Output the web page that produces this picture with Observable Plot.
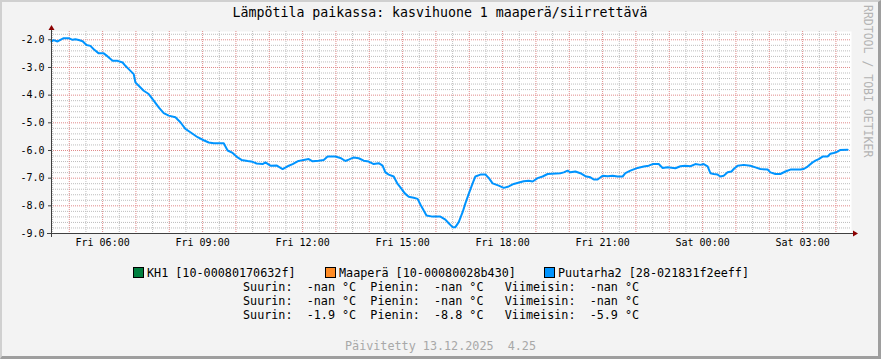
<!DOCTYPE html>
<html><head><meta charset="utf-8">
<script src="https://cdn.jsdelivr.net/npm/d3@7"></script>
<script src="https://cdn.jsdelivr.net/npm/@observablehq/plot@0.6"></script>
<style>
html,body{margin:0;padding:0;background:#f3f3f3;}
#wrap{position:relative;width:881px;height:359px;background:#f3f3f3;overflow:hidden;font-family:"DejaVu Sans Mono",monospace;}
#wrap svg{position:absolute;left:0;top:0;}
.t{position:absolute;white-space:pre;font-size:11.75px;line-height:14px;color:#000;}
.sq{position:absolute;width:9px;height:9px;border:1px solid #000;}
#border{position:absolute;left:0;top:0;width:881px;height:359px;box-sizing:border-box;border-left:2px solid #d0d0d0;border-top:2px solid #d0d0d0;border-right:3px solid #9e9e9e;border-bottom:3px solid #9e9e9e;pointer-events:none;}
</style></head><body><div id="wrap"></div>
<script>
// time in minutes since Fri 12.12.2025 00:00 and temperature (°C) of Puutarha2
const minutes = [268,272,279,284,290,299,306,311,317,324,331,338,344,353,362,369,378,387,396,401,407,416,419,425,434,443,452,461,470,479,491,500,509,518,531,542,551,560,578,585,594,603,610,621,630,637,648,653,662,673,684,693,702,711,722,731,738,749,758,765,779,788,797,803,812,821,830,839,848,857,864,869,875,884,891,896,904,911,920,927,932,938,943,954,968,977,983,990,995,1001,1008,1013,1019,1026,1031,1040,1049,1055,1062,1073,1082,1091,1100,1118,1127,1134,1143,1152,1161,1184,1190,1197,1202,1211,1220,1229,1238,1244,1251,1260,1269,1278,1287,1296,1301,1310,1323,1334,1343,1350,1361,1368,1377,1391,1400,1409,1418,1427,1436,1442,1449,1454,1460,1467,1472,1478,1485,1492,1496,1503,1514,1526,1535,1544,1557,1562,1571,1580,1589,1598,1616,1622,1629,1638,1643,1649,1656,1665,1670,1676,1683,1688,1701];
const temps = [-2.06,-2.01,-2.06,-2.00,-1.94,-1.94,-2.00,-1.98,-2.01,-2.05,-2.19,-2.22,-2.34,-2.49,-2.49,-2.60,-2.76,-2.76,-2.82,-2.94,-3.06,-3.24,-3.54,-3.66,-3.84,-3.96,-4.20,-4.44,-4.65,-4.74,-4.80,-4.98,-5.22,-5.34,-5.52,-5.63,-5.71,-5.74,-5.74,-6.00,-6.09,-6.25,-6.34,-6.38,-6.41,-6.47,-6.49,-6.43,-6.55,-6.54,-6.67,-6.57,-6.49,-6.39,-6.34,-6.31,-6.39,-6.37,-6.34,-6.22,-6.22,-6.27,-6.38,-6.33,-6.25,-6.28,-6.37,-6.40,-6.49,-6.46,-6.55,-6.79,-6.87,-6.94,-7.21,-7.33,-7.55,-7.67,-7.71,-7.75,-7.95,-8.17,-8.35,-8.39,-8.39,-8.50,-8.63,-8.77,-8.77,-8.59,-8.23,-7.91,-7.57,-7.19,-6.94,-6.87,-6.87,-6.99,-7.19,-7.27,-7.35,-7.30,-7.21,-7.11,-7.09,-7.12,-7.00,-6.94,-6.85,-6.82,-6.79,-6.73,-6.79,-6.76,-6.82,-6.93,-6.97,-7.05,-7.05,-6.91,-6.93,-6.91,-6.94,-6.94,-6.82,-6.73,-6.63,-6.58,-6.55,-6.49,-6.49,-6.63,-6.61,-6.64,-6.57,-6.55,-6.57,-6.49,-6.52,-6.49,-6.57,-6.82,-6.85,-6.87,-6.94,-6.91,-6.79,-6.76,-6.67,-6.55,-6.52,-6.55,-6.61,-6.67,-6.69,-6.79,-6.85,-6.85,-6.76,-6.69,-6.69,-6.67,-6.58,-6.43,-6.37,-6.31,-6.22,-6.22,-6.12,-6.09,-6.04,-5.98,-5.97];

const xDomainMinutes = [268, 1708];
const xTickMinutes = [360, 540, 720, 900, 1080, 1260, 1440, 1620];
const xTickLabels = ["Fri 06:00","Fri 09:00","Fri 12:00","Fri 15:00","Fri 18:00","Fri 21:00","Sat 00:00","Sat 03:00"];
const yDomain = [-9, -1.7];
const yTicks = [-9, -8, -7, -6, -5, -4, -3, -2];

const titleText = "Lämpötila paikassa: kasvihuone 1 maaperä/siirrettävä";
const legendNames = ["KH1 [10-00080170632f]", "Maaperä [10-00080028b430]", "Puutarha2 [28-021831f2eeff]"];
const legendColors = ["#007f3f", "#ff8c26", "#0094ff"];
const statMax = ["-nan", "-nan", "-1.9"];
const statMin = ["-nan", "-nan", "-8.8"];
const statLast = ["-nan", "-nan", "-5.9"];
const updatedText = "Päivitetty 13.12.2025  4.25";
const watermark = "RRDTOOL / TOBI OETIKER";

const base = new Date(2025, 11, 12, 0, 0, 0);
const toDate = m => new Date(base.getTime() + m * 60000);
const data = minutes.map((m, i) => ({t: toDate(m), v: temps[i]}));
const xDom = xDomainMinutes.map(toDate);

const hourTicks = d3.timeHour.range(xDom[0], xDom[1]);
const halfTicks = d3.timeMinute.every(30).range(xDom[0], xDom[1]).filter(d => d.getMinutes() !== 0);
const minorY = d3.range(-90, -16, 2).filter(v => v % 10 !== 0).map(v => v / 10);

const W = 881, H = 359, mL = 51, mR = 30, mT = 31, mB = 126;
const line = legendColors[2];
const minorCol = "#bdbdbd", majorCol = "#e08a8a";

const chart = Plot.plot({
  width: W, height: H,
  marginLeft: mL, marginRight: mR, marginTop: mT, marginBottom: mB,
  style: {background: "transparent", fontFamily: "'DejaVu Sans Mono', monospace", fontSize: "10px", color: "#000", overflow: "visible"},
  x: {type: "time", domain: xDom, label: null},
  y: {domain: yDomain, label: null},
  marks: [
    Plot.frame({fill: "white", stroke: null}),
    Plot.gridX(halfTicks, {stroke: minorCol, strokeOpacity: 1, strokeDasharray: "1,1"}),
    Plot.gridY(minorY, {stroke: minorCol, strokeOpacity: 1, strokeDasharray: "1,1"}),
    Plot.gridX(hourTicks, {stroke: majorCol, strokeOpacity: 1, strokeDasharray: "1,1"}),
    Plot.gridY(yTicks, {stroke: majorCol, strokeOpacity: 1, strokeDasharray: "1,1"}),
    Plot.line(data, {x: "t", y: "v", stroke: line, strokeWidth: 2, strokeLinejoin: "miter"}),
    Plot.axisY(yTicks, {label: null, tickFormat: d => d.toFixed(1), tickSize: 3, tickPadding: 4, stroke: "#404040", fill: "#000", fontSize: 10}),
    Plot.axisX(xTickMinutes.map(toDate), {label: null, tickFormat: (d, i) => xTickLabels[i], tickSize: 0, tickPadding: 5, fill: "#000", fontSize: 10})
  ]
});

const svg = d3.select(chart);
const gAx = svg.append("g");
// axis lines
gAx.append("line").attr("x1", mL + 0.5).attr("x2", mL + 0.5).attr("y1", H - mB + 4).attr("y2", mT - 2).attr("stroke", "#404040");
gAx.append("line").attr("x1", mL - 4).attr("x2", W - mR + 2).attr("y1", H - mB + 0.5).attr("y2", H - mB + 0.5).attr("stroke", "#404040");
// arrows
gAx.append("path").attr("d", `M${mL + 0.5},${mT - 6} L${mL - 2.5},${mT - 1} L${mL + 3.5},${mT - 1} Z`).attr("fill", "#8b0000");
gAx.append("path").attr("d", `M${W - mR + 7},${H - mB + 0.5} L${W - mR + 2},${H - mB - 2.5} L${W - mR + 2},${H - mB + 3.5} Z`).attr("fill", "#8b0000");

const wrap = document.getElementById("wrap");
wrap.appendChild(chart);

function addText(txt, x, y, cls, style) {
  const d = document.createElement("div");
  d.className = cls || "t";
  d.textContent = txt;
  d.style.left = x + "px";
  d.style.top = y + "px";
  if (style) Object.assign(d.style, style);
  wrap.appendChild(d);
  return d;
}
// title
addText(titleText, 0, 4, "t", {width: "880px", textAlign: "center", fontSize: "13.25px", lineHeight: "18px"});
// watermark
addText(watermark, 861, 5, "t", {writingMode: "vertical-rl", fontSize: "11.5px", color: "#b4b4b4", lineHeight: "14px"});
// legend
const legX = [133, 325, 544];
legendNames.forEach((n, i) => {
  const s = document.createElement("div");
  s.className = "sq";
  s.style.left = legX[i] + "px";
  s.style.top = "267px";
  s.style.background = legendColors[i];
  wrap.appendChild(s);
  addText(n, legX[i] + 14, 266);
});
const pad = (s, n) => s.padStart(n, " ");
statMax.forEach((_, i) => {
  const txt = "Suurin: " + pad(statMax[i], 5) + " °C  Pienin: " + pad(statMin[i], 5) + " °C   Viimeisin: " + pad(statLast[i], 5) + " °C";
  addText(txt, 243, 280 + 14 * i);
});
addText(updatedText, 345, 339, "t", {color: "#a8a8a8"});
const b = document.createElement("div");
b.id = "border";
wrap.appendChild(b);
</script></body></html>
